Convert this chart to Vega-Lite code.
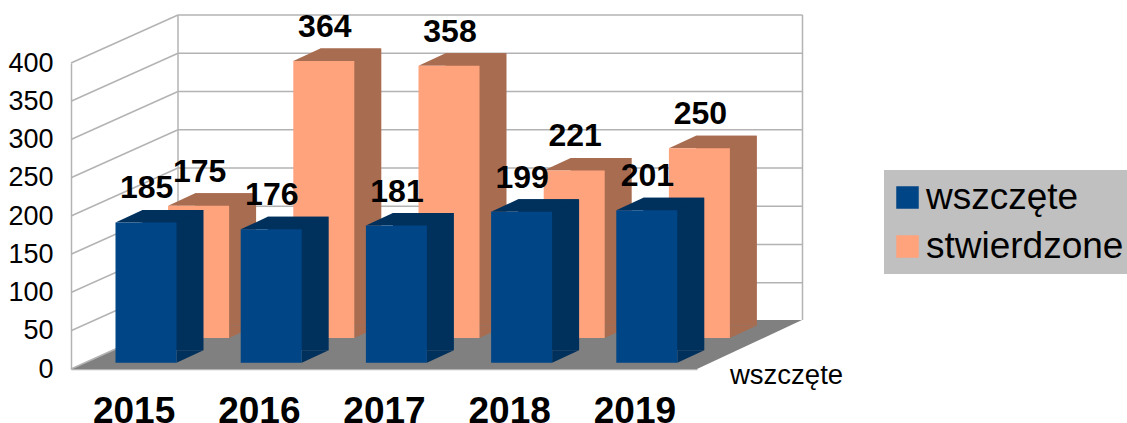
{"$schema":"https://vega.github.io/schema/vega-lite/v6.json","autosize":{"type":"none"},"padding":{"left":71,"top":63,"right":430,"bottom":54},"width":626,"height":306,"background":"white","config":{"view":{"stroke":null},"font":"Liberation Sans","axis":{"title":null,"titleOpacity":0,"ticks":false,"grid":false,"domainColor":"#b3b3b3","domainWidth":1.5,"labelColor":"#000000","labelOverlap":false,"labelSeparation":0,"labelBound":false,"labelFlush":false},"axisX":{"labelFontSize":37,"labelFontWeight":"bold","labelPadding":24,"format":"d","tickCount":5},"axisY":{"labelFontSize":27,"labelPadding":18,"tickCount":9}},
"datasets":{"bars":[
{"rok":2015,"seria":"wszczęte","liczba":185},{"rok":2016,"seria":"wszczęte","liczba":176},{"rok":2017,"seria":"wszczęte","liczba":181},{"rok":2018,"seria":"wszczęte","liczba":199},{"rok":2019,"seria":"wszczęte","liczba":201},
{"rok":2015,"seria":"stwierdzone","liczba":175},{"rok":2016,"seria":"stwierdzone","liczba":364},{"rok":2017,"seria":"stwierdzone","liczba":358},{"rok":2018,"seria":"stwierdzone","liczba":221},{"rok":2019,"seria":"stwierdzone","liczba":250}],
"ticks":[{"t":0,"start":2014.5,"end":2019.5},{"t":50,"start":2014.5,"end":2019.5},{"t":100,"start":2014.5,"end":2019.5},{"t":150,"start":2014.5,"end":2019.5},{"t":200,"start":2014.5,"end":2019.5},{"t":250,"start":2014.5,"end":2019.5},{"t":300,"start":2014.5,"end":2019.5},{"t":350,"start":2014.5,"end":2019.5},{"t":400,"start":2014.5,"end":2019.5}],
"one":[{"opis":"wszczęte","start":2014.5,"end":2019.5,"top":400,"base":0}]},
"data":{"name":"bars"},
"encoding":{"x":{"field":"rok","type":"quantitative","title":null,"scale":{"domain":[2014.5,2019.5],"nice":false,"zero":false,"padding":0},"axis":{"values":[2015,2016,2017,2018,2019]}},"y":{"field":"liczba","type":"quantitative","title":null,"scale":{"domain":[0,400],"nice":false},"axis":{"values":[0,50,100,150,200,250,300,350,400]}}},
"layer":[
{"data":{"name":"one"},"mark":{"type":"point","shape":"M0 0 L626 0 L731 -49 L106.5 -49 Z","size":4,"filled":true,"opacity":1,"color":"#808080","strokeWidth":0},
"encoding":{"x":{"field":"start","type":"quantitative","title":null},"y":{"field":"base","type":"quantitative","title":null}}},
{"data":{"name":"ticks"},"mark":{"type":"rule","color":"#b3b3b3","strokeWidth":1.5,"x2Offset":107,"y2Offset":-48},"encoding":{"x":{"field":"start","type":"quantitative","title":null},"x2":{"field":"start"},"y":{"field":"t","type":"quantitative","title":null},"y2":{"field":"t"}}},
{"data":{"name":"ticks"},"transform":[{"filter":"datum.t>0"}],"mark":{"type":"rule","color":"#b3b3b3","strokeWidth":1.5,"xOffset":107,"x2Offset":105.5,"yOffset":-48,"y2Offset":-48},"encoding":{"x":{"field":"start","type":"quantitative","title":null},"x2":{"field":"end"},"y":{"field":"t","type":"quantitative","title":null},"y2":{"field":"t"}}},
{"data":{"name":"one"},"mark":{"type":"rule","color":"#b3b3b3","strokeWidth":1.5,"xOffset":107,"yOffset":-48,"y2Offset":-49},"encoding":{"x":{"field":"start","type":"quantitative","title":null},"y":{"field":"top","type":"quantitative","title":null},"y2":{"field":"base"}}},
{"data":{"name":"one"},"mark":{"type":"rule","color":"#b3b3b3","strokeWidth":1.5,"xOffset":105.5,"yOffset":-48,"y2Offset":-49},"encoding":{"x":{"field":"end","type":"quantitative","title":null},"y":{"field":"top","type":"quantitative","title":null},"y2":{"field":"base"}}},

{"transform":[{"filter":"datum.seria==='stwierdzone'"}],"mark":{"type":"bar","orient":"vertical","size":61,"color":"#a86d50","xOffset":92,"yOffset":-42,"y2Offset":-43.5},"encoding":{"y2":{"datum":0}}},
{"transform":[{"filter":"datum.seria==='stwierdzone'"}],"mark":{"type":"point","shape":"M30.5 0 L57.5 -12.5 L30.5 -12.5 Z","size":4,"filled":true,"opacity":1,"color":"#a86d50","strokeWidth":0,"xOffset":65,"yOffset":-31},"encoding":{"y":{"datum":0,"type":"quantitative","title":null}}},
{"transform":[{"filter":"datum.seria==='stwierdzone'"}],"mark":{"type":"point","shape":"M-30.5 0 L30.5 0 L57.5 -12.5 L-3.5 -12.5 Z","size":4,"filled":true,"opacity":1,"color":"#a86d50","strokeWidth":0,"xOffset":65,"yOffset":-29.5}},
{"transform":[{"filter":"datum.seria==='stwierdzone'"}],"mark":{"type":"bar","orient":"vertical","size":61,"xOffset":65,"yOffset":-29.5,"y2Offset":-31},"encoding":{"y2":{"datum":0},"color":{"field":"seria","type":"nominal","scale":{"domain":["wszczęte","stwierdzone"],"range":["#004586","#ffa37c"]},"legend":{"title":null,"orient":"none","legendX":813,"legendY":107,"fillColor":"#c0c0c0","padding":9,"symbolType":"square","symbolSize":506,"symbolStrokeWidth":0,"symbolOffset":-4,"labelFontSize":37,"labelColor":"#000000","labelOffset":0,"rowPadding":11,"labelLimit":300}}}},

{"transform":[{"filter":"datum.seria==='wszczęte'"}],"mark":{"type":"bar","orient":"vertical","size":61,"color":"#00305c","xOffset":39.4,"yOffset":-17.5,"y2Offset":-18.8},"encoding":{"y2":{"datum":0}}},
{"transform":[{"filter":"datum.seria==='wszczęte'"}],"mark":{"type":"point","shape":"M30.5 0 L57.5 -12.5 L30.5 -12.5 Z","size":4,"filled":true,"opacity":1,"color":"#00305c","strokeWidth":0,"xOffset":12.4,"yOffset":-6.3},"encoding":{"y":{"datum":0,"type":"quantitative","title":null}}},
{"transform":[{"filter":"datum.seria==='wszczęte'"}],"mark":{"type":"point","shape":"M-30.5 0 L30.5 0 L57.5 -12.5 L-3.5 -12.5 Z","size":4,"filled":true,"opacity":1,"color":"#00305c","strokeWidth":0,"xOffset":12.4,"yOffset":-5}},
{"transform":[{"filter":"datum.seria==='wszczęte'"}],"mark":{"type":"bar","orient":"vertical","size":61,"xOffset":12.4,"yOffset":-5,"y2Offset":-6.3},"encoding":{"y2":{"datum":0},"color":{"field":"seria","type":"nominal","scale":{"domain":["wszczęte","stwierdzone"],"range":["#004586","#ffa37c"]}}}},

{"transform":[{"filter":"datum.seria==='stwierdzone'"}],"mark":{"type":"text","fontSize":32,"fontWeight":"bold","color":"#000000","xOffset":66,"yOffset":-63.5},"encoding":{"text":{"field":"liczba","type":"quantitative"}}},
{"transform":[{"filter":"datum.seria==='wszczęte'"}],"mark":{"type":"text","fontSize":32,"fontWeight":"bold","color":"#000000","xOffset":13,"yOffset":-39},"encoding":{"text":{"field":"liczba","type":"quantitative"}}},
{"data":{"name":"one"},"mark":{"type":"text","fontSize":27.5,"color":"#000000","align":"left","baseline":"middle","xOffset":33,"yOffset":7},"encoding":{"x":{"field":"end","type":"quantitative","title":null},"y":{"field":"base","type":"quantitative","title":null},"text":{"field":"opis"}}}
]}
